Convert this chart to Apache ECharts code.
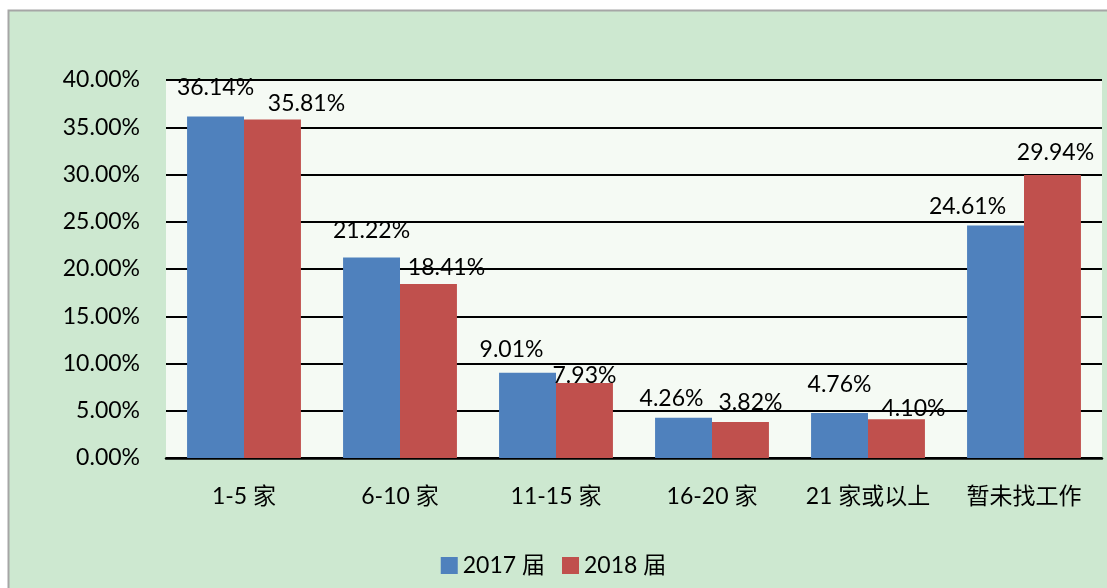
<!DOCTYPE html>
<html>
<head>
<meta charset="utf-8">
<script src="https://cdn.jsdelivr.net/npm/echarts@6/dist/echarts.min.js"></script>
<style>
html,body{margin:0;padding:0;background:#fff;}
#main{width:1107px;height:588px;}
</style>
</head>
<body>
<div id="main"></div>
<script>
var categories = ['1-5 家', '6-10 家', '11-15 家', '16-20 家', '21 家或以上', '暂未找工作'];
var seriesNames = ['2017 届', '2018 届'];
var values2017 = [36.14, 21.22, 9.01, 4.26, 4.76, 24.61];
var values2018 = [35.81, 18.41, 7.93, 3.82, 4.10, 29.94];
var yTicks = [0, 5, 10, 15, 20, 25, 30, 35, 40];

// manual label nudges [dx, dy] (Excel-style hand-placed data labels)
var labelNudge2017 = [[0, -8], [0, -6], [-16, -3], [-12, 1], [0, -8], [-28, 2]];
var labelNudge2018 = [[34, 4], [18, 4], [0, 13], [10, 1], [17, 10], [3, -2]];

var FONT = 'Lato, "Noto Sans CJK SC", sans-serif';
var FS = 23;
var colors = ['#4f81bd', '#c0504d'];

function buildData(vals, nudges) {
  return vals.map(function (v, i) {
    return {
      value: v,
      label: { offset: nudges[i] }
    };
  });
}

var chart = echarts.init(document.getElementById('main'), null, { renderer: 'canvas' });
chart.setOption({
  backgroundColor: '#ffffff',
  animation: false,
  color: colors,
  graphic: [{
    type: 'rect',
    z: -10,
    silent: true,
    shape: { x: 8.5, y: 10.5, width: 1110, height: 600 },
    style: { fill: '#cde8d0', stroke: '#a6a6a6', lineWidth: 2 }
  }],
  grid: {
    left: 166, right: 5, top: 80, bottom: 130,
    show: true, backgroundColor: '#f5faf4', borderWidth: 0
  },
  legend: {
    bottom: 6,
    left: 'center',
    itemWidth: 17, itemHeight: 17, itemGap: 17,
    icon: 'rect',
    textStyle: { fontFamily: FONT, fontSize: FS, color: '#000' },
    data: seriesNames
  },
  xAxis: {
    type: 'category',
    data: categories,
    axisLine: { lineStyle: { color: '#000', width: 2.5 } },
    axisTick: { show: false },
    axisLabel: { interval: 0, fontFamily: FONT, fontSize: FS, color: '#000', margin: 27 }
  },
  yAxis: {
    type: 'value',
    min: yTicks[0], max: yTicks[yTicks.length - 1], interval: 5,
    axisLine: { show: false },
    axisTick: { show: false },
    splitLine: { lineStyle: { color: '#000', width: 2 } },
    axisLabel: {
      fontFamily: FONT, fontSize: FS, color: '#000', margin: 26,
      formatter: function (v) { return v.toFixed(2) + '%'; }
    }
  },
  series: [
    {
      name: seriesNames[0], type: 'bar', barGap: '0%', barCategoryGap: '27%',
      data: buildData(values2017, labelNudge2017),
      label: {
        show: true, position: 'top', distance: 9,
        fontFamily: FONT, fontSize: FS, color: '#000',
        formatter: function (p) { return p.value.toFixed(2) + '%'; }
      }
    },
    {
      name: seriesNames[1], type: 'bar', barGap: '0%', barCategoryGap: '27%',
      data: buildData(values2018, labelNudge2018),
      label: {
        show: true, position: 'top', distance: 9,
        fontFamily: FONT, fontSize: FS, color: '#000',
        formatter: function (p) { return p.value.toFixed(2) + '%'; }
      }
    }
  ]
});
</script>
</body>
</html>
